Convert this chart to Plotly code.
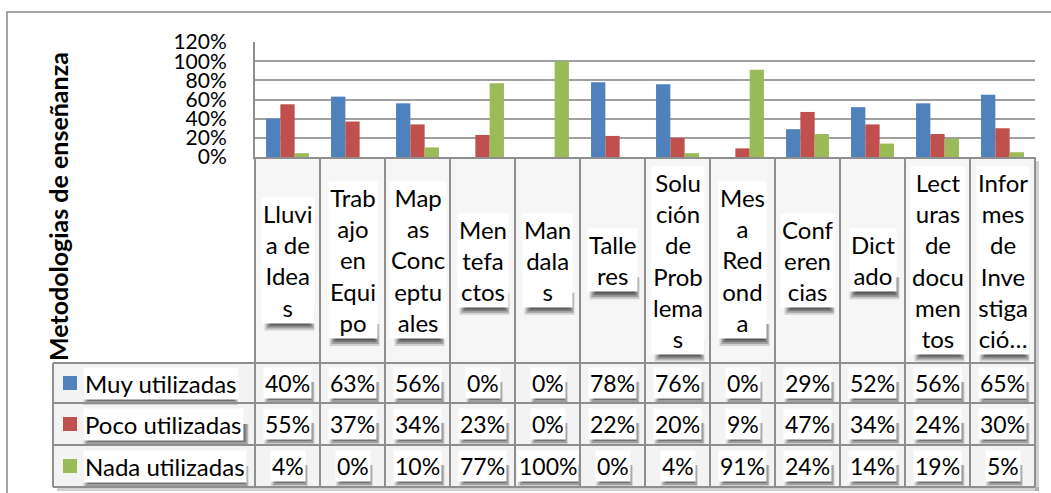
import plotly.graph_objects as go

categories = ["Lluvia de Ideas", "Trabajo en Equipo", "Mapas Conceptuales", "Mentefactos",
              "Mandalas", "Talleres", "Solución de Problemas", "Mesa Redonda",
              "Conferencias", "Dictado", "Lecturas de documentos", "Informes de Investigación"]
wrapped_labels = ["Lluvi<br>a de<br>Idea<br>s", "Trab<br>ajo<br>en<br>Equi<br>po",
                  "Map<br>as<br>Conc<br>eptu<br>ales", "Men<br>tefa<br>ctos",
                  "Man<br>dala<br>s", "Talle<br>res", "Solu<br>ción<br>de<br>Prob<br>lema<br>s",
                  "Mes<br>a<br>Red<br>ond<br>a", "Conf<br>eren<br>cias", "Dict<br>ado",
                  "Lect<br>uras<br>de<br>docu<br>men<br>tos", "Infor<br>mes<br>de<br>Inve<br>stiga<br>ció…"]
series_names = ["Muy utilizadas", "Poco utilizadas", "Nada utilizadas"]
muy = [40, 63, 56, 0, 0, 78, 76, 0, 29, 52, 56, 65]
poco = [55, 37, 34, 23, 0, 22, 20, 9, 47, 34, 24, 30]
nada = [4, 0, 10, 77, 100, 0, 4, 91, 24, 14, 19, 5]
series_values = [muy, poco, nada]
colors = ["#4F81BD", "#C0504D", "#9BBB59"]
y_title = "Metodologias de enseñanza"

W, H = 1051, 493
L, R, T, B = 255, 1035, 42, 157
FONT = "Lato"
LINE = "#8f8f8f"


def px(xp):
    return (xp - L) / (R - L)


def py(yp):
    return 1 - (yp - T) / (B - T)


fig = go.Figure()
for name, vals, col in zip(series_names, series_values, colors):
    fig.add_trace(go.Bar(x=categories, y=[v / 100 for v in vals], name=name,
                         marker=dict(color=col, line=dict(width=0)), hoverinfo="skip"))

shapes = []
annotations = []
n = len(categories)
colw = (R - L) / n
row_lines = [363, 403, 445, 487]

# outer chart frame
shapes.append(dict(type="rect", xref="paper", yref="paper", x0=px(7), x1=px(1070),
                   y0=py(12), y1=py(520), line=dict(color="#888888", width=1.5),
                   fillcolor="rgba(0,0,0,0)", layer="below"))

# table background cells
shapes.append(dict(type="rect", xref="paper", yref="paper", x0=px(L), x1=px(R),
                   y0=py(B), y1=py(row_lines[0]), fillcolor="#f6f6f6", line=dict(width=0),
                   layer="below"))
shapes.append(dict(type="rect", xref="paper", yref="paper", x0=px(53), x1=px(R),
                   y0=py(row_lines[0]), y1=py(row_lines[-1]), fillcolor="#f3f3f3",
                   line=dict(width=0), layer="below"))
# table drop shadow (right and bottom)
shapes.append(dict(type="rect", xref="paper", yref="paper", x0=px(R), x1=px(R + 4),
                   y0=py(B + 4), y1=py(row_lines[-1] + 4), fillcolor="rgba(120,120,120,0.35)",
                   line=dict(width=0), layer="below"))
shapes.append(dict(type="rect", xref="paper", yref="paper", x0=px(57), x1=px(R + 4),
                   y0=py(row_lines[-1]), y1=py(row_lines[-1] + 4), fillcolor="rgba(120,120,120,0.35)",
                   line=dict(width=0), layer="below"))


def shadow(cx, bottom, w):
    """Soft drop shadow below a text box (pixel geometry)."""
    for dx0, dx1, dy1, a in ((-1, 5, 10, 0.18), (1, 4, 8, 0.3), (3, 2, 6, 0.4), (5, 0, 4, 0.45)):
        shapes.append(dict(type="rect", xref="paper", yref="paper",
                           x0=px(cx - w / 2 + dx0), x1=px(cx + w / 2 + dx1),
                           y0=py(bottom - 12), y1=py(bottom + dy1),
                           fillcolor=f"rgba(45,45,45,{a})", line=dict(width=0), layer="below"))


def boxed(x, y, text, size, xref="x", xanchor="center"):
    annotations.append(dict(x=x, y=y, xref=xref, yref="paper", text=text, showarrow=False,
                            xanchor=xanchor, yanchor="middle",
                            font=dict(family=FONT, size=size, color="black"),
                            bgcolor="white", borderpad=1))


# category labels
label_cy = (B + row_lines[0]) / 2
for i, lab in enumerate(wrapped_labels):
    nl = lab.count("<br>") + 1
    h = nl * 24 * 1.3 - 4
    shadow(L + (i + 0.5) * colw, label_cy + h / 2, 44)
    boxed(i, py(label_cy), lab, 24)

# data rows
for r, (name, vals, col) in enumerate(zip(series_names, series_values, colors)):
    yc = (row_lines[r] + row_lines[r + 1]) / 2
    shapes.append(dict(type="rect", xref="paper", yref="paper", x0=px(63), x1=px(77),
                       y0=py(yc - 7), y1=py(yc + 7), fillcolor=col, line=dict(width=0)))
    shadow(83 + len(name) * 5.4, yc + 12, len(name) * 10.6)
    boxed(px(83), py(yc), name, 24, xref="paper", xanchor="left")
    for i, v in enumerate(vals):
        t = f"{v}%"
        shadow(L + (i + 0.5) * colw, yc + 11, len(t) * 13.3 + 4)
        boxed(i, py(yc), t, 23)

# table lines
for yl in row_lines:
    shapes.append(dict(type="line", xref="paper", yref="paper", x0=px(53), x1=px(R),
                       y0=py(yl), y1=py(yl), line=dict(color=LINE, width=2), layer="below"))
for i in range(n + 1):
    shapes.append(dict(type="line", xref="paper", yref="paper", x0=i / n, x1=i / n,
                       y0=py(B), y1=py(row_lines[-1]), line=dict(color=LINE, width=2), layer="below"))
shapes.append(dict(type="line", xref="paper", yref="paper", x0=px(53), x1=px(53),
                   y0=py(row_lines[0]), y1=py(row_lines[-1]), line=dict(color=LINE, width=2),
                   layer="below"))

# y-axis title
annotations.append(dict(x=px(58), y=py(207), xref="paper", yref="paper", text=f"<b>{y_title}</b>",
                        showarrow=False, textangle=-90, xanchor="center", yanchor="middle",
                        font=dict(family=FONT, size=25, color="black")))

fig.update_layout(
    width=W, height=H,
    margin=dict(l=L, r=W - R, t=T, b=H - B, pad=0),
    paper_bgcolor="white", plot_bgcolor="white",
    barmode="group", bargap=0.34, bargroupgap=0,
    showlegend=False,
    shapes=shapes, annotations=annotations,
    xaxis=dict(type="category", range=[-0.5, n - 0.5], showticklabels=False, ticks="",
               showgrid=False, showline=True, linecolor=LINE, linewidth=2, zeroline=False),
    yaxis=dict(range=[0, 1.2], dtick=0.2, tickformat=".0%", showgrid=True,
               gridcolor="#a0a0a0", gridwidth=1.5, zeroline=False, showline=True,
               linecolor=LINE, linewidth=2, ticks="", ticklabelstandoff=22,
               tickfont=dict(family=FONT, size=21, color="black")),
)
fig.write_html("out.html", config={"displayModeBar": False},
               post_script="document.body.style.margin='0';document.body.style.overflow='hidden';")
